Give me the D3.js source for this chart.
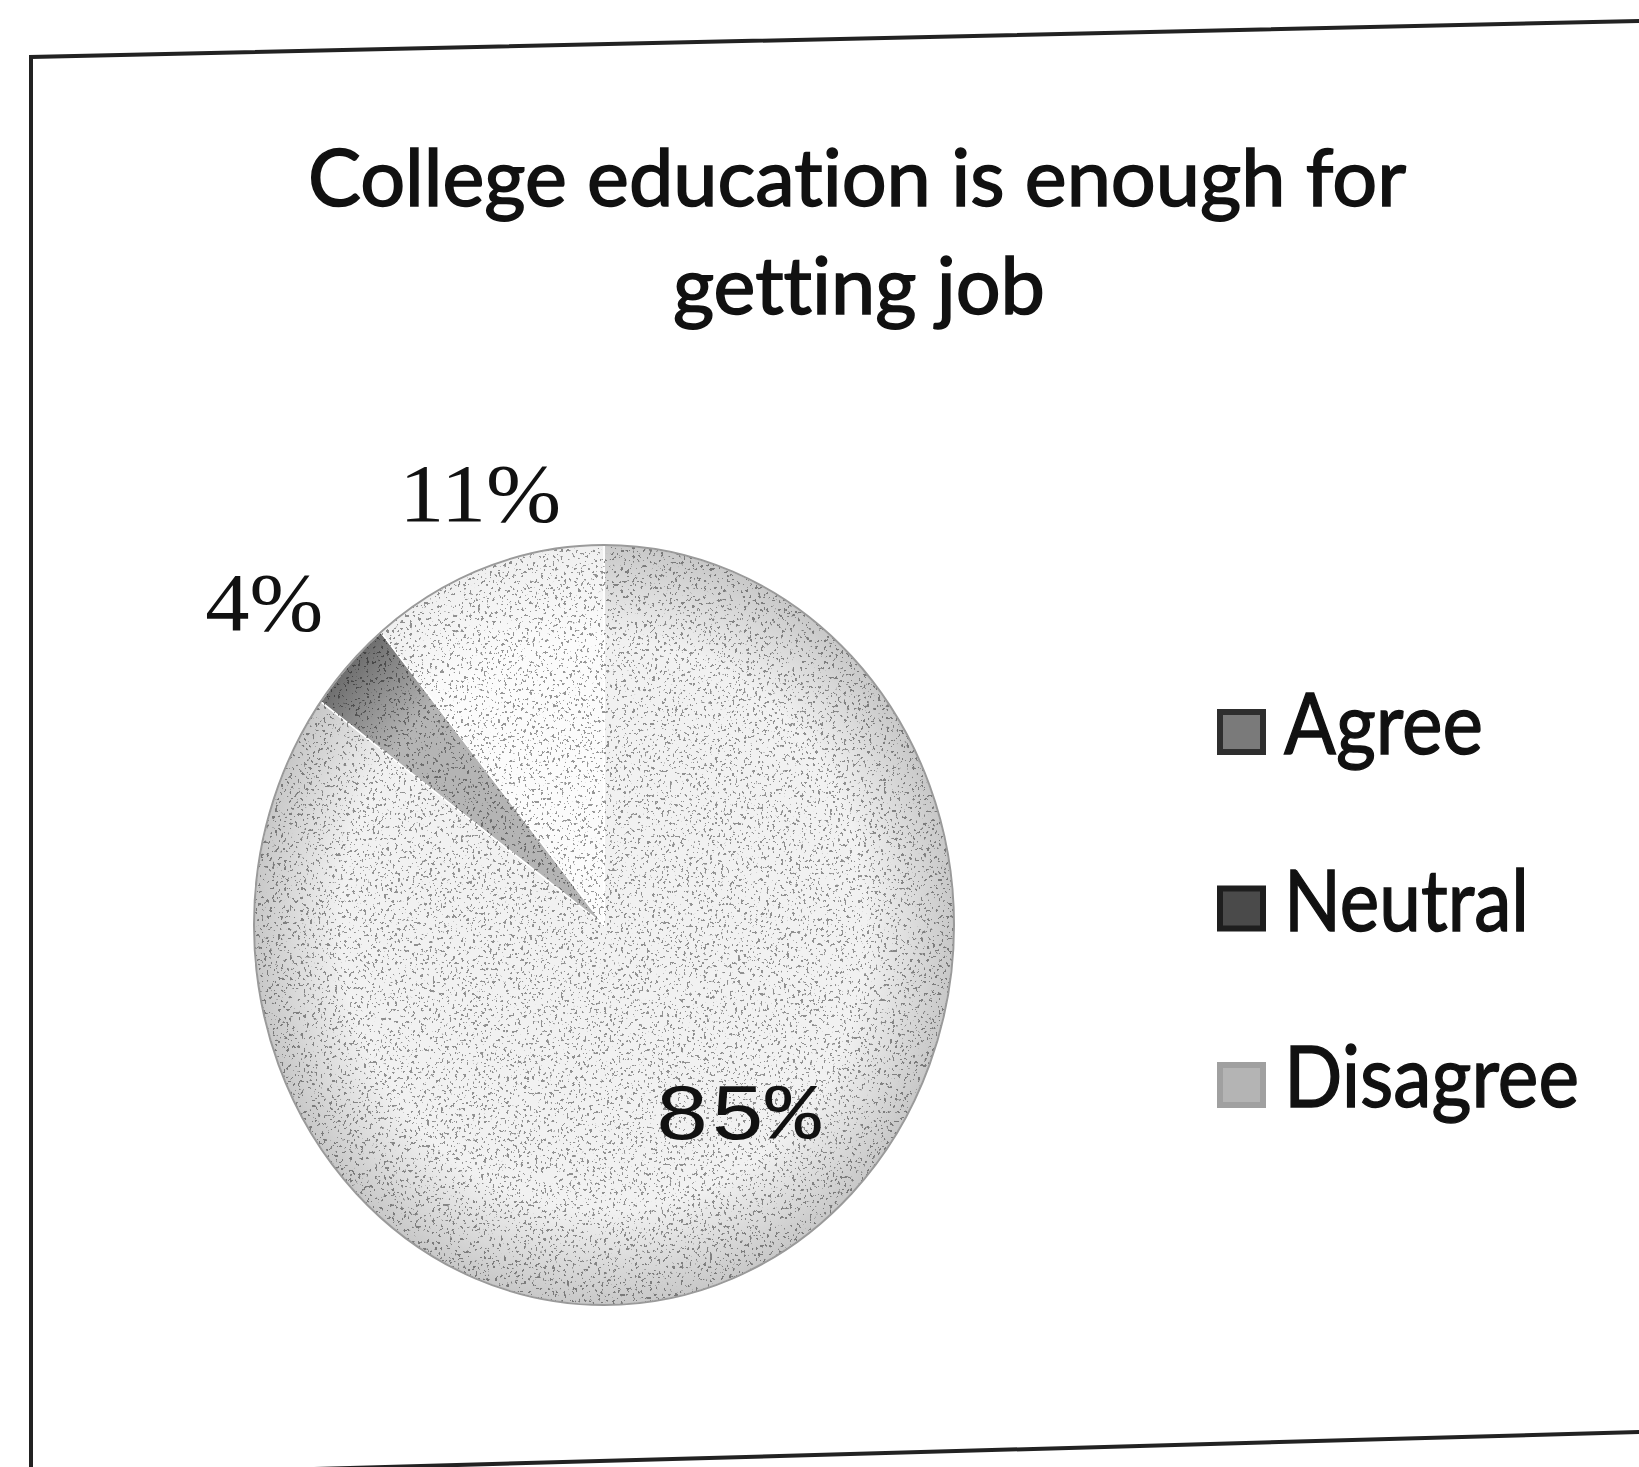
<!DOCTYPE html>
<html>
<head>
<meta charset="utf-8">
<script src="https://cdn.jsdelivr.net/npm/d3@7"></script>
<style>
  html, body { margin: 0; padding: 0; background: #ffffff; }
  svg { display: block; }
  text { font-variant-ligatures: none; font-feature-settings: "liga" 0; }
</style>
</head>
<body>
<svg id="chart" width="1639" height="1467"></svg>
<script>
// Survey responses: "College education is enough for getting job"
const categories = ["Agree", "Neutral", "Disagree"];
const shares = [85, 4, 11];
const valueLabels = ["85%", "4%", "11%"];
const titleLines = ["College education  is enough for", "getting job"];

// Slice shading (light, printed look) and legend swatch shading
const sliceFill = { Agree: "#f1f1f1", Neutral: "#b4b4b4", Disagree: "#fbfbfb" };
const sliceRim = { Agree: "#c8c8c8", Neutral: "#6e6e6e", Disagree: "#efefef" };
const swatchFill = { Agree: "#7a7a7a", Neutral: "#4a4a4a", Disagree: "#b4b4b4" };
const swatchEdge = { Agree: "#2e2e2e", Neutral: "#1e1e1e", Disagree: "#a0a0a0" };

const svg = d3.select("#chart");
const W = 1639, H = 1467;

// Outer frame of the chart area (slightly tilted in the printed copy)
svg.append("path")
  .attr("d", d3.line()([[31, H + 2], [31, 57], [W + 2, 21]]))
  .attr("fill", "none").attr("stroke", "#222").attr("stroke-width", 4);
svg.append("path")
  .attr("d", d3.line()([[314, H + 2], [W + 2, 1432]]))
  .attr("fill", "none").attr("stroke", "#222").attr("stroke-width", 4);

// Fit a text element horizontally to a given width
function fit(sel, width) {
  sel.attr("textLength", width).attr("lengthAdjust", "spacingAndGlyphs");
  return sel;
}

// Title
const title = svg.append("g").attr("font-family", "Lato, 'Open Sans', sans-serif")
  .attr("fill", "#111").attr("stroke", "#111").attr("stroke-width", 1.6)
  .attr("text-anchor", "middle");
fit(title.append("text").attr("x", 857).attr("y", 206).attr("font-size", 80)
  .text(titleLines[0]), 1098);
fit(title.append("text").attr("x", 859).attr("y", 314).attr("font-size", 80)
  .text(titleLines[1]), 372);

// Pie geometry (slightly taller than wide)
const cx = 604, cy = 925, rx = 350, ry = 380;
const R = rx;

const pie = d3.pie().sort(null).value(d => d.v).startAngle(0).endAngle(2 * Math.PI);
const data = categories.map((c, i) => ({ c, v: shares[i], label: valueLabels[i] }));
const arcs = pie(data);
const arc = d3.arc().innerRadius(0).outerRadius(R);

const defs = svg.append("defs");
categories.forEach(c => {
  const g = defs.append("radialGradient").attr("id", "g-" + c)
    .attr("gradientUnits", "userSpaceOnUse").attr("cx", 0).attr("cy", 0).attr("r", R);
  g.append("stop").attr("offset", "0%").attr("stop-color", sliceFill[c]);
  g.append("stop").attr("offset", "75%").attr("stop-color", sliceFill[c]);
  g.append("stop").attr("offset", "100%").attr("stop-color", sliceRim[c]);
});

// Sparse speckled print texture: keep only the brightest noise peaks
const speck = defs.append("filter").attr("id", "speck")
  .attr("x", 0).attr("y", 0).attr("width", "100%").attr("height", "100%");
speck.append("feTurbulence").attr("type", "fractalNoise").attr("baseFrequency", 0.35)
  .attr("numOctaves", 2).attr("seed", 11).attr("result", "noise");
speck.append("feColorMatrix").attr("in", "noise").attr("type", "matrix")
  .attr("values", "0 0 0 0 0  0 0 0 0 0  0 0 0 0 0  0 0 0 30 -19").attr("result", "dots");
speck.append("feComposite").attr("in", "dots").attr("in2", "SourceGraphic").attr("operator", "in");

const pieG = svg.append("g")
  .attr("transform", `translate(${cx},${cy}) scale(1,${ry / rx})`);

pieG.selectAll("path.slice").data(arcs).join("path")
  .attr("class", "slice")
  .attr("d", arc)
  .attr("fill", d => `url(#g-${d.data.c})`)
  .attr("stroke", "#ffffff").attr("stroke-width", 1.5)
  .attr("vector-effect", "non-scaling-stroke");

pieG.append("circle").attr("r", R)
  .attr("fill", "#7a7a7a").attr("opacity", 0.4)
  .attr("filter", "url(#speck)");

pieG.append("circle").attr("r", R).attr("fill", "none")
  .attr("stroke", "#9a9a9a").attr("stroke-width", 2)
  .attr("vector-effect", "non-scaling-stroke");

// Percentage labels: angle nudge (degrees) and radius relative to the pie
const labelPlace = { Agree: [-11, 0.62], Neutral: [-2, 1.29], Disagree: [2.5, 1.19] };
const labelWidth = { Agree: 166, Neutral: 118, Disagree: 162 };
const labels = svg.append("g").attr("font-family", "'Liberation Serif', serif")
  .attr("fill", "#111").attr("text-anchor", "middle");
arcs.forEach(a => {
  const [nudge, rr] = labelPlace[a.data.c];
  const ang = (a.startAngle + a.endAngle) / 2 + nudge * Math.PI / 180;
  const x = cx + rx * rr * Math.sin(ang);
  const y = cy - ry * rr * Math.cos(ang);
  const t = labels.append("text").attr("x", x).attr("y", y + 28)
    .attr("font-size", 82).text(a.data.label);
  if (a.data.c === "Agree") t.attr("font-family", "'Liberation Mono', monospace").attr("font-size", 80);
  fit(t, labelWidth[a.data.c]);
});

// Legend
const legY = d3.scalePoint().domain(categories).range([732, 1085]);
const leg = svg.append("g");
categories.forEach(c => {
  const y = legY(c);
  leg.append("rect").attr("x", 1220).attr("y", y - 20).attr("width", 43).attr("height", 40)
    .attr("fill", swatchFill[c]).attr("stroke", swatchEdge[c]).attr("stroke-width", 6);
  const t = leg.append("text").attr("x", 1284).attr("y", y + 22)
    .attr("font-family", "Lato, 'Open Sans', sans-serif").attr("font-size", 86)
    .attr("fill", "#111").attr("stroke", "#111").attr("stroke-width", 1.4).text(c);
  fit(t, { Agree: 199, Neutral: 245, Disagree: 295 }[c]);
});
</script>
</body>
</html>
